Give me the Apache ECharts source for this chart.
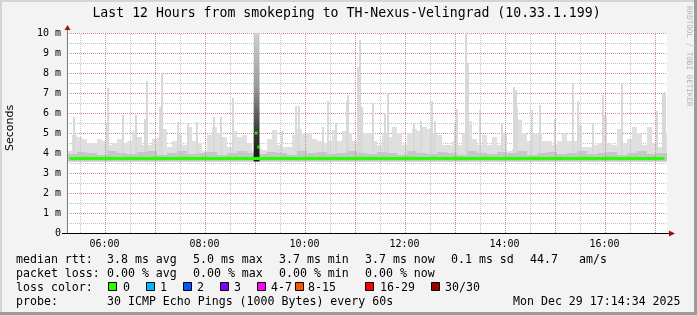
<!DOCTYPE html>
<html><head><meta charset="utf-8">
<script src="https://cdn.jsdelivr.net/npm/echarts@6/dist/echarts.min.js"></script>
<style>html,body{margin:0;padding:0;background:#f3f3f3;overflow:hidden}#c{width:697px;height:315px;}</style>
</head><body><div id="c"></div>
<script>
// ---- time range (minutes since midnight) ----
const startMin = 315, endMin = 1035, binMinutes = 6;
const xLabelTicks = [360, 480, 600, 720, 840, 960];
const xMajorTicks = [360, 420, 480, 540, 600, 660, 720, 780, 840, 900, 960, 1020];
const xMinorTicks = [330, 390, 450, 510, 570, 630, 690, 750, 810, 870, 930, 990];

// ---- smoke (ms), 6-minute bins ----
const smokeLow = 3.57;
const bandTop = [
  4.1,4.9,4.8,4.7,4.5,4.5,4.7,4.6,4.4,4.5,
  4.7,4.5,4.6,5.1,4.8,4.4,4.4,4.7,4.8,5.2,
  4.3,4.6,4.9,4.4,5.3,4.6,4.5,4.1,4.9,5.3,
  5.0,4.8,4.3,5.1,4.8,4.9,4.5,4.1,4.2,4.15,
  4.7,5.15,4.4,4.3,4.3,4.9,5.2,5.0,5.0,4.7,
  4.6,4.5,4.6,5.15,4.6,5.1,5.0,4.6,4.8,5.0,
  5.0,4.6,4.4,5.0,4.8,5.3,5.0,4.4,5.0,5.2,
  5.1,5.3,5.2,5.0,4.9,4.4,4.4,4.6,4.4,5.0,
  5.6,4.7,4.4,4.9,4.4,4.8,4.4,5.0,4.1,4.2,
  5.67,5.0,4.6,5.0,5.0,4.6,4.6,4.4,4.6,5.0,
  4.6,4.6,5.4,4.3,4.3,4.4,4.5,5.9,4.5,4.4,
  5.2,4.5,4.7,5.3,5.0,4.4,5.3,4.5,4.3,5.0
];
// darker inner smoke, 12-minute bins
const innerTop = [
  3.95,4.05,4.0,3.9,4.1,4.0,3.95,4.05,4.1,3.9,
  4.0,4.1,3.95,4.0,4.05,3.9,4.0,4.1,4.0,3.95,
  4.05,4.0,3.9,4.1,4.0,4.05,3.95,4.0,4.1,4.0,
  3.95,4.05,4.0,3.9,4.1,4.0,3.95,4.05,4.0,3.9,
  4.1,4.0,3.95,4.05,4.0,4.1,3.9,4.0,4.05,3.95,
  4.0,4.1,3.95,4.0,4.05,3.9,4.0,4.1,3.95,4.0
];
// narrow smoke spikes: minute, top (ms)
const spikeMinutes = [323,363,364,382,398,409,411,427,429,448,460,471,491,500,514,573,590,593,622,628,638,651,652,664,667,669,682,697,700,731,740,753,757,781,783,794,796,811,837,851,854,855,873,883,901,922,928,946,958,981,1023,1030,1033];
const spikeTops    = [5.8,5.5,7.25,5.9,5.9,5.7,7.6,6.3,8.0,5.55,5.5,5.55,5.8,5.8,6.75,5.1,6.35,6.35,5.3,6.6,5.5,6.6,6.9,8.3,9.65,6.3,6.5,6.0,7.0,5.5,5.6,6.6,5.6,5.5,6.2,10,8.5,6.15,5.5,7.3,7.15,6.3,6.15,6.4,5.7,7.5,6.6,5.5,6.9,7.5,6.1,7.0,7.05];
// outage-like burst
const burstStart = 539, burstEnd = 546, burstTop = 10, burstDarkTop = 5.1;
const burstMedianMinutes = [542, 545];
const burstMedianValues = [5.0, 4.3];
// median rtt (ms), 6-minute bins
const median = [
  3.73,3.72,3.73,3.74,3.73,3.72,3.73,3.73,3.74,3.73,
  3.72,3.73,3.74,3.73,3.73,3.72,3.73,3.74,3.73,3.73,
  3.72,3.73,3.73,3.74,3.73,3.72,3.73,3.74,3.73,3.73,
  3.72,3.73,3.73,3.74,3.73,3.72,3.73,3.73,3.74,3.73,
  3.73,3.72,3.73,3.74,3.73,3.73,3.72,3.73,3.74,3.73,
  3.72,3.73,3.73,3.74,3.73,3.72,3.73,3.73,3.74,3.73,
  3.73,3.72,3.73,3.74,3.73,3.73,3.72,3.73,3.74,3.73,
  3.72,3.73,3.73,3.74,3.73,3.72,3.73,3.73,3.74,3.73,
  3.73,3.72,3.73,3.74,3.73,3.73,3.72,3.73,3.74,3.73,
  3.72,3.73,3.73,3.74,3.73,3.72,3.73,3.73,3.74,3.73,
  3.73,3.72,3.73,3.74,3.73,3.73,3.72,3.73,3.74,3.73,
  3.72,3.73,3.73,3.74,3.73,3.72,3.73,3.73,3.72,3.73
];
const lossLabels = ['0','1','2','3','4-7','8-15','16-29','30/30'];
const lossColors = ['#26ff00','#00b8ff','#0059ff','#7e00ff','#ff00ff','#ff5500','#ff0000','#a00000'];

const MONO = '"DejaVu Sans Mono", monospace';
const MAJOR = '#d08c8c', MINOR = '#c2c2c2';
const chart = echarts.init(document.getElementById('c'), null, {renderer:'canvas'});

const bandData = bandTop.map((v,i)=>[startMin + i*binMinutes, v, binMinutes]);
const innerData = innerTop.map((v,i)=>[startMin + i*binMinutes*2, v, binMinutes*2]);
const spikeData = spikeMinutes.map((m,i)=>[m, spikeTops[i]]);
const medianData = median.map((v,i)=>[startMin + i*binMinutes + binMinutes/2, v]);
const vGridData = [].concat(xMinorTicks.map(v=>[v,0,1]), xMajorTicks.map(v=>[v,0,0]));

function rectItem(api, x0, x1, lo, hi, fill) {
  const a = api.coord([x0, lo]), b = api.coord([x1, hi]);
  return {type:'rect', shape:{x:a[0], y:b[1], width:b[0]-a[0], height:a[1]-b[1]}, style:{fill:fill}};
}
function pad(n){return (n<10?'0':'')+n;}

// legend / text graphics
const g = [];
function txt(x,y,s,opt){ g.push(Object.assign({type:'text', x:x, y:y, style:{text:s, font:'11.6px '+MONO, fill:'#000', textVerticalAlign:'middle'}, z:10}, opt||{})); }
const L1 = 259.5, L2 = 273.5, L3 = 287.5, L4 = 301.5;
txt(16,L1,'median rtt:'); txt(107,L1,'3.8 ms avg'); txt(193,L1,'5.0 ms max'); txt(279,L1,'3.7 ms min'); txt(365,L1,'3.7 ms now'); txt(451,L1,'0.1 ms sd'); txt(530,L1,'44.7'); txt(579,L1,'am/s');
txt(16,L2,'packet loss:'); txt(107,L2,'0.00 % avg'); txt(193,L2,'0.00 % max'); txt(279,L2,'0.00 % min'); txt(365,L2,'0.00 % now');
txt(16,L3,'loss color:');
const boxX = [108,146,183,220,257,295,365,431];
const boxTx = [123,160,197,234,271,308,380,445];
lossLabels.forEach((l,i)=>{
  g.push({type:'rect', shape:{x:boxX[i]+0.5, y:282.5, width:8, height:8}, style:{fill:lossColors[i], stroke:'#000', lineWidth:1}, z:10});
  txt(boxTx[i], L3, l);
});
txt(16,L4,'probe:'); txt(107,L4,'30 ICMP Echo Pings (1000 Bytes) every 60s'); txt(513,L4,'Mon Dec 29 17:14:34 2025');
// title
g.push({type:'text', x:346.5, y:14, style:{text:'Last 12 Hours from smokeping to TH-Nexus-Velingrad (10.33.1.199)', font:'13.2px '+MONO, fill:'#000', textAlign:'center', textVerticalAlign:'middle'}, z:10});
// y axis name
g.push({type:'text', x:10.5, y:128, rotation:Math.PI/2, style:{text:'Seconds', font:'11px "DejaVu Sans", sans-serif', fill:'#000', textAlign:'center', textVerticalAlign:'middle'}, z:10});
// watermark
g.push({type:'text', x:689, y:6, rotation:-Math.PI/2, style:{text:'RRDTOOL / TOBI OETIKER', font:'7.6px '+MONO, fill:'#b4b4b4', textAlign:'left', textVerticalAlign:'middle'}, z:10});
// borders
g.push({type:'rect', shape:{x:0,y:0,width:697,height:2}, style:{fill:'#d4d4d4'}, z:1});
g.push({type:'rect', shape:{x:0,y:0,width:2,height:315}, style:{fill:'#d4d4d4'}, z:1});
g.push({type:'rect', shape:{x:694,y:0,width:3,height:315}, style:{fill:'#9c9c9c'}, z:1});
g.push({type:'rect', shape:{x:0,y:312,width:697,height:3}, style:{fill:'#9c9c9c'}, z:1});
// axis lines + arrows
g.push({type:'line', shape:{x1:67.5,y1:233,x2:67.5,y2:29}, style:{stroke:'#7a7a7a', lineWidth:1}, z:20});
g.push({type:'polygon', shape:{points:[[64.5,30],[70.5,30],[67.5,25]]}, style:{fill:'#a01010'}, z:20});
g.push({type:'line', shape:{x1:62,y1:233.5,x2:670,y2:233.5}, style:{stroke:'#000', lineWidth:1}, z:20});
g.push({type:'polygon', shape:{points:[[669,230.5],[669,236.5],[675,233.5]]}, style:{fill:'#a01010'}, z:20});

const option = {
  animation:false,
  backgroundColor:'#f3f3f3',
  grid:{left:67, right:30, top:33, bottom:82, show:true, backgroundColor:'#ffffff', borderWidth:0},
  xAxis:{type:'value', min:startMin, max:endMin,
    axisLine:{show:false}, axisTick:{show:false}, splitLine:{show:false},
    axisLabel:{customValues:xLabelTicks, margin:6, fontFamily:MONO, fontSize:10, color:'#000',
      formatter:v=>pad(Math.floor(v/60))+':'+pad(Math.round(v%60))}},
  yAxis:{type:'value', min:0, max:10, interval:1,
    axisLine:{show:false}, axisTick:{show:false},
    splitLine:{show:true, lineStyle:{color:MAJOR, width:1, type:[1,1]}},
    minorTick:{show:false, splitNumber:2},
    minorSplitLine:{show:true, lineStyle:{color:MINOR, width:1, type:[1,1]}},
    axisLabel:{margin:6, fontFamily:MONO, fontSize:10, color:'#000', formatter:v=>v===0?'0':v+' m'}},
  graphic:g,
  series:[
    {type:'custom', z:1, clip:true, data:bandData, encode:{x:0,y:1},
      renderItem:(p,api)=>rectItem(api, api.value(0), api.value(0)+api.value(2), smokeLow, api.value(1), '#dfdfdf')},
    {type:'custom', z:2, clip:true, data:spikeData, encode:{x:0,y:1},
      renderItem:(p,api)=>{const a=api.coord([api.value(0),smokeLow]), b=api.coord([api.value(0),api.value(1)]);
        return {type:'rect', shape:{x:Math.round(a[0])-1, y:b[1], width:2, height:a[1]-b[1]}, style:{fill:'#d8d8d8'}};}},
    {type:'custom', z:3, clip:true, data:innerData, encode:{x:0,y:1},
      renderItem:(p,api)=>rectItem(api, api.value(0), api.value(0)+api.value(2), smokeLow, api.value(1), '#c6c6c6')},
    {type:'custom', z:5, clip:true, data:vGridData, encode:{x:0,y:1}, silent:true,
      renderItem:(p,api)=>{
        const k=api.value(2);
        const a=api.coord([api.value(0),0]), b=api.coord([api.value(0),10]); const x=Math.round(a[0])+0.5;
        return {type:'line', shape:{x1:x,y1:a[1],x2:x,y2:b[1]}, style:{stroke:k===0?MAJOR:MINOR,lineWidth:1,lineDash:[1,1]}};
      }},
    {type:'custom', z:6, clip:true, data:[[burstStart, burstTop, burstEnd, burstDarkTop]], encode:{x:0,y:1},
      renderItem:(p,api)=>{
        const a=api.coord([api.value(0),smokeLow]), b=api.coord([api.value(2),api.value(1)]), d=api.coord([api.value(2),api.value(3)]);
        const h=a[1]-b[1], f=(d[1]-b[1])/h;
        return {type:'rect', shape:{x:a[0], y:b[1], width:b[0]-a[0], height:h},
          style:{fill:new echarts.graphic.LinearGradient(0,0,0,1,[{offset:0,color:'#cfcfcf'},{offset:f*0.55,color:'#9a9a9a'},{offset:f,color:'#3a3a3a'},{offset:1,color:'#111'}])}};
      }},
    {type:'line', z:7, data:medianData, showSymbol:false, symbol:'none', lineStyle:{color:'#26ff00', width:3}, silent:true},
    {type:'scatter', z:8, data:burstMedianMinutes.map((m,i)=>[m,burstMedianValues[i]]), symbol:'rect', symbolSize:[3,3], itemStyle:{color:'#26ff00'}, silent:true}
  ]
};
chart.setOption(option);
</script></body></html>
